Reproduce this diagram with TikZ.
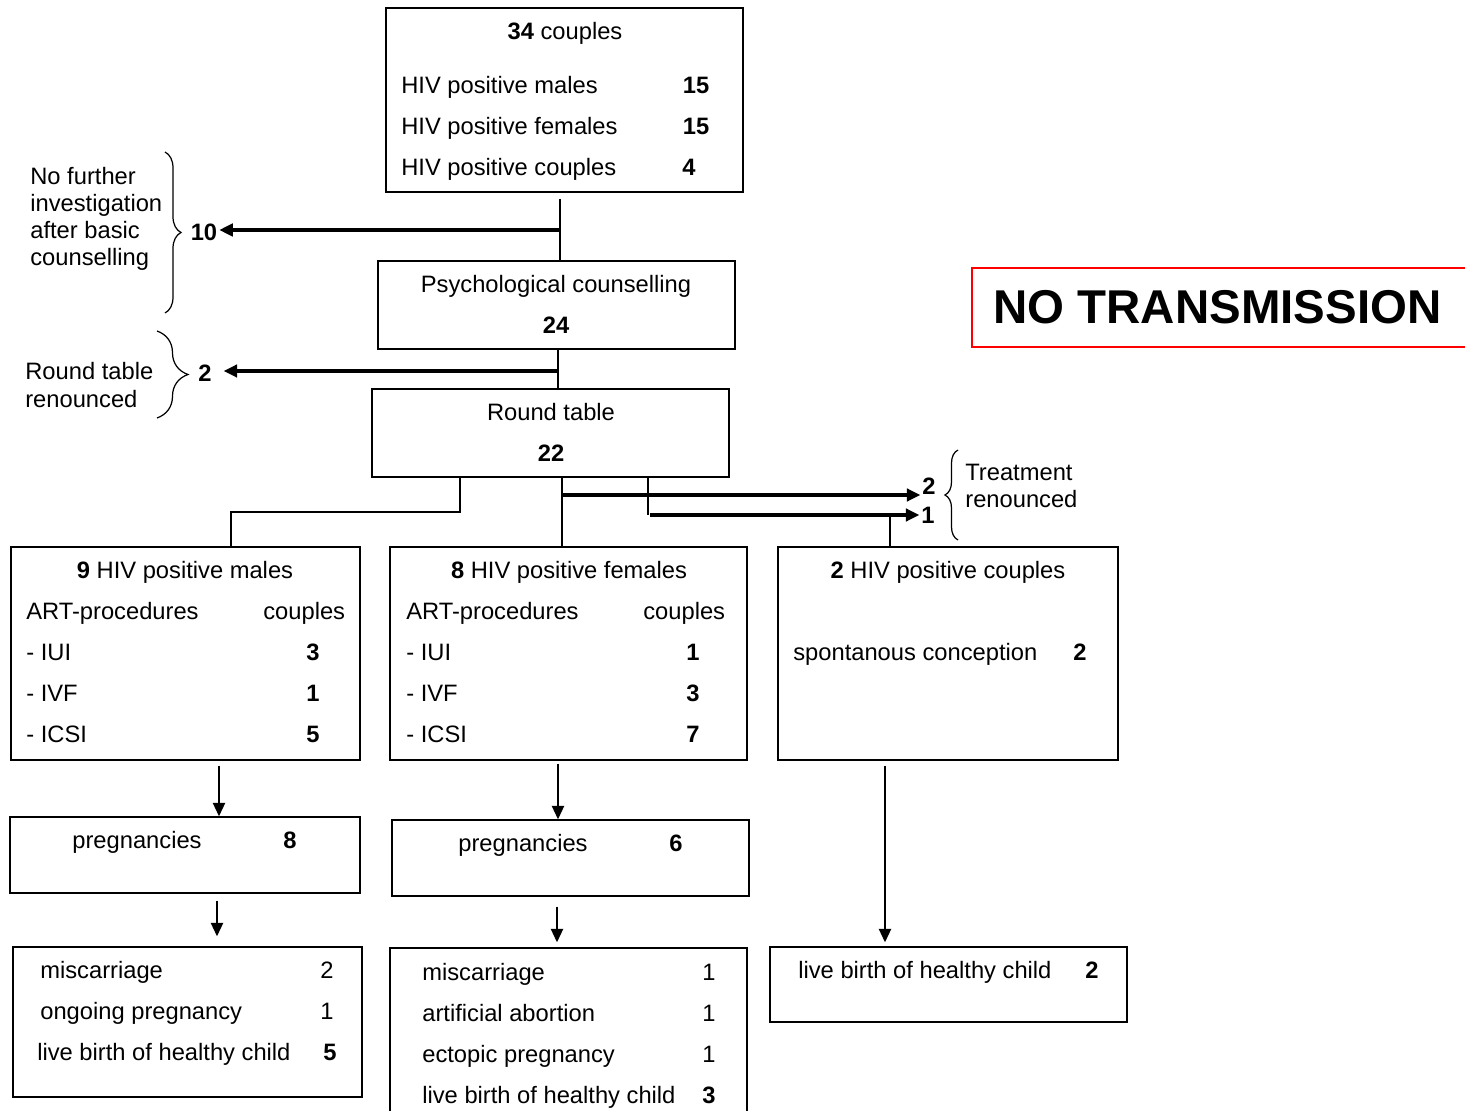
\documentclass[tikz,border=0pt]{standalone}
\usepackage{fontspec}
\setmainfont{Liberation Sans}
\usetikzlibrary{arrows.meta,fit,decorations.pathreplacing}

\begin{document}
\begin{tikzpicture}[x=0.02cm,y=-0.02cm,
  font=\fontsize{13.5}{16}\selectfont,
  box/.style={draw,line width=0.7pt,inner sep=0,rectangle},
  txt/.style={anchor=base west,inner sep=0,yshift=-0.6pt},
  mid/.style={anchor=base,inner sep=0,yshift=-0.6pt},
  num/.style={anchor=base,inner sep=1pt,yshift=-0.6pt,font=\fontsize{13.5}{16}\selectfont\bfseries},
  side/.style={anchor=west,align=left,inner sep=0,font=\fontsize{13.5}{15.4}\selectfont},
  line/.style={line width=0.7pt},
  arr/.style={line width=1.8pt,-{Triangle[length=0.27cm,width=0.25cm]}},
  varr/.style={line width=1.3pt,-{Triangle[length=0.27cm,width=0.24cm]}},
  curly/.style={decorate,decoration={brace,amplitude=#1},line width=0.7pt}]
\useasboundingbox (0,0) rectangle (1465,1111);

% boxes
\node (topBox) [box, fit={(386,8) (743,192)}] {};
\node (psychBox) [box, fit={(378,261) (735,349)}] {};
\node (roundTable) [box, fit={(372,389) (729,477)}] {};
\node (malesBox) [box, fit={(11,547) (360,760)}] {};
\node (femalesBox) [box, fit={(390,547) (747,760)}] {};
\node (couplesBox) [box, fit={(778,547) (1118,760)}] {};
\node (pregMales) [box, fit={(10,817) (360,893)}] {};
\node (pregFemales) [box, fit={(392,820) (749,896)}] {};
\node (outMales) [box, fit={(13,947) (362,1097)}] {};
\node (outFemales) [box, fit={(390,948) (747,1120)}] {};
\node (outCouples) [box, fit={(770,947) (1127,1022)}] {};
\node (noTransmission) [draw=red, line width=1.3pt, inner sep=0, fit={(972,268) (1490,347)}] {};

% top box
\node (topTitle) [mid] at (565,38) {\textbf{34} couples};
\node (rowMales) [txt] at (401,92) {HIV positive males};
\node (numMales) [num] at (696,92) {15};
\node (rowFemales) [txt] at (401,133) {HIV positive females};
\node (numFemales) [num] at (696,133) {15};
\node (rowCouples) [txt] at (401,174) {HIV positive couples};
\node (numCouples) [num] at (689,174) {4};

\node (psychTitle) [mid] at (556,291) {Psychological counselling};
\node (psychNum) [num] at (556,332) {24};
\node (roundTitle) [mid] at (551,419) {Round table};
\node (roundNum) [num] at (551,460) {22};

% drop outs
\node (n10) [num] at (204,239) {10};
\node (n2a) [num] at (205,380) {2};
\node (n2b) [num] at (929,493) {2};
\node (n1) [num] at (928,522) {1};
\node (noFurther) [side] at (30,219) {No further\\investigation\\after basic\\counselling};
\node (rtRenounced) [side] at (25,385) {Round table\\renounced};
\node (trRenounced) [side] at (965,486) {Treatment\\renounced};
\draw[curly=0.32cm] (165,152) -- (165,313);
\draw[curly=0.62cm] (157,331) -- (157,418);
\draw[curly=0.26cm] (958,540) -- (958,450);

% second row
\node (malesTitle) [mid] at (185,577) {\textbf{9} HIV positive males};
\node (malesArt) [txt] at (26,618) {ART-procedures};
\node (malesCpl) [txt] at (263,618) {couples};
\node (malesIui) [txt] at (26,659) {- IUI};
\node (malesIuiN) [num] at (313,659) {3};
\node (malesIvf) [txt] at (26,700) {- IVF};
\node (malesIvfN) [num] at (313,700) {1};
\node (malesIcsi) [txt] at (26,741) {- ICSI};
\node (malesIcsiN) [num] at (313,741) {5};

\node (femalesTitle) [mid] at (569,577) {\textbf{8} HIV positive females};
\node (femalesArt) [txt] at (406,618) {ART-procedures};
\node (femalesCpl) [txt] at (643,618) {couples};
\node (femalesIui) [txt] at (406,659) {- IUI};
\node (femalesIuiN) [num] at (693,659) {1};
\node (femalesIvf) [txt] at (406,700) {- IVF};
\node (femalesIvfN) [num] at (693,700) {3};
\node (femalesIcsi) [txt] at (406,741) {- ICSI};
\node (femalesIcsiN) [num] at (693,741) {7};

\node (couplesTitle) [mid] at (948,577) {\textbf{2} HIV positive couples};
\node (couplesSpont) [txt] at (793,659) {spontanous conception};
\node (couplesSpontN) [num] at (1080,659) {2};

% pregnancies
\node (pregMalesT) [mid] at (137,847) {pregnancies};
\node (pregMalesN) [num] at (290,847) {8};
\node (pregFemalesT) [mid] at (523,850) {pregnancies};
\node (pregFemalesN) [num] at (676,850) {6};

% outcomes
\node (omMisc) [txt] at (40,977) {miscarriage};
\node (omMiscN) [mid] at (327,977) {2};
\node (omOngoing) [txt] at (40,1018) {ongoing pregnancy};
\node (omOngoingN) [mid] at (327,1018) {1};
\node (omLive) [txt] at (37,1059) {live birth of healthy child};
\node (omLiveN) [num] at (330,1059) {5};

\node (ofMisc) [txt] at (422,979) {miscarriage};
\node (ofMiscN) [mid] at (709,979) {1};
\node (ofAbort) [txt] at (422,1020) {artificial abortion};
\node (ofAbortN) [mid] at (709,1020) {1};
\node (ofEctopic) [txt] at (422,1061) {ectopic pregnancy};
\node (ofEctopicN) [mid] at (709,1061) {1};
\node (ofLive) [txt] at (422,1102) {live birth of healthy child};
\node (ofLiveN) [num] at (709,1102) {3};

\node (ocLive) [txt] at (798,977) {live birth of healthy child};
\node (ocLiveN) [num] at (1092,977) {2};

\node (noTransText) [anchor=base west, inner sep=0, font=\fontsize{27}{32}\selectfont\bfseries]
  at (993,324) {NO TRANSMISSION};

% connectors
\coordinate (c10) at (560,230);
\coordinate (c2) at (558,371);
\coordinate (jl) at (460,512);
\coordinate (ml) at (231,512);
\coordinate (jm) at (562,495);
\coordinate (jr) at (648,515);
\coordinate (jc) at (890,515);
\coordinate (v1) at (219,790);
\coordinate (v2) at (558,790);
\coordinate (v3) at (885,790);
\coordinate (v4) at (217,920);
\coordinate (v5) at (557,920);

\draw[line] (c10 |- topBox.south) ++(0,6) -- (c10 |- psychBox.north);
\draw[arr] (c10) -- (c10 -| n10.east);
\draw[line] (c2 |- psychBox.south) -- (c2 |- roundTable.north);
\draw[arr, shorten >=0.2cm] (c2) -- (c2 -| n2a.east);

\draw[line] (jl |- roundTable.south) -- (jl) -- (ml) -- (ml |- malesBox.north);
\draw[line] (jm |- roundTable.south) -- (jm |- femalesBox.north);
\draw[arr] (jm) -- (jm -| n2b.west);
\draw[line] (jr |- roundTable.south) -- (jr);
\draw[arr] ([xshift=0.04cm]jr) -- (jr -| n1.west);
\draw[line] (jc) -- (jc |- couplesBox.north);

\draw[varr, shorten <=0.1cm] (v1 |- malesBox.south) -- (v1 |- pregMales.north);
\draw[varr, shorten <=0.06cm] (v2 |- femalesBox.south) -- (v2 |- pregFemales.north);
\draw[varr, shorten <=0.1cm, shorten >=0.08cm] (v3 |- couplesBox.south) -- (v3 |- outCouples.north);
\draw[varr, shorten <=0.14cm, shorten >=0.2cm] (v4 |- pregMales.south) -- (v4 |- outMales.north);
\draw[varr, shorten <=0.2cm, shorten >=0.1cm] (v5 |- pregFemales.south) -- (v5 |- outFemales.north);
\end{tikzpicture}
\end{document}
